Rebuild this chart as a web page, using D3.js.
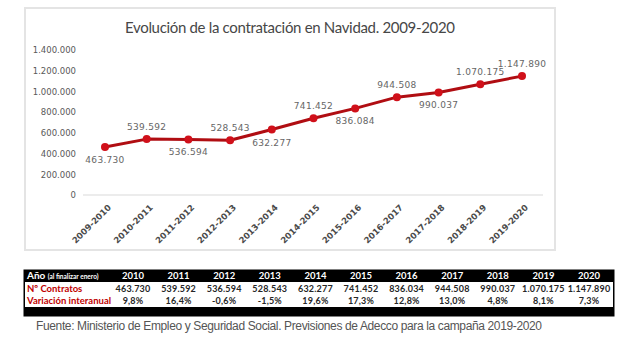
<!DOCTYPE html>
<html>
<head>
<meta charset="utf-8">
<script src="https://cdn.jsdelivr.net/npm/d3@7"></script>
<style>
  body { margin: 0; background: #fff; }
  svg { display: block; }
</style>
</head>
<body>
<svg width="635" height="340"></svg>
<script>
// Seasons on the x axis and hirings per season
const seasons = ["2009-2010", "2010-2011", "2011-2012", "2012-2013", "2013-2014", "2014-2015",
  "2015-2016", "2016-2017", "2017-2018", "2018-2019", "2019-2020"]
const contratos = [463730, 539592, 536594, 528543, 632277, 741452, 836084, 944508, 990037, 1070175, 1147890]
// where each value label sits: 1 above the point, -1 below
const labelSide = [-1, 1, -1, 1, -1, 1, -1, 1, -1, 1, 1]
const yTicks = [0, 200000, 400000, 600000, 800000, 1000000, 1200000, 1400000]

// Table under the chart
const tableYears = ["2010", "2011", "2012", "2013", "2014", "2015", "2016", "2017", "2018", "2019", "2020"]
const tableContratos = ["463.730", "539.592", "536.594", "528.543", "632.277", "741.452", "836.034",
  "944.508", "990.037", "1.070.175", "1.147.890"]
const tableVariacion = ["9,8%", "16,4%", "-0,6%", "-1,5%", "19,6%", "17,3%", "12,8%", "13,0%", "4,8%", "8,1%", "7,3%"]

const svg = d3.select("svg")
const fmt = v => d3.format(",")(v).replace(/,/g, ".")

// chart frame
svg.append("rect")
  .attr("x", 25).attr("y", 8)
  .attr("width", 530).attr("height", 242)
  .attr("fill", "#fff")
  .attr("stroke", "#e4e4e4")
  .attr("stroke-width", 2)

svg.append("text")
  .attr("x", 290).attr("y", 33)
  .attr("text-anchor", "middle")
  .attr("font-family", "Lato, sans-serif")
  .attr("font-size", 15)
  .attr("fill", "#474747")
  .attr("textLength", 330)
  .text("Evolución de la contratación en Navidad. 2009-2020")

const x = d3.scalePoint()
  .domain(seasons)
  .range([105, 522])

const y = d3.scaleLinear()
  .domain([0, 1400000])
  .range([195, 50])

// y axis: labels only, one baseline at zero
const yAxis = svg.append("g")
  .attr("transform", "translate(80,0)")
  .call(d3.axisLeft(y).tickValues(yTicks).tickSize(0).tickPadding(4).tickFormat(fmt))
yAxis.select(".domain").remove()
yAxis.selectAll("text")
  .attr("font-family", "DejaVu Sans, sans-serif")
  .attr("font-size", 8.5)
  .attr("fill", "#595959")

svg.append("line")
  .attr("x1", 83).attr("x2", 543)
  .attr("y1", y(0)).attr("y2", y(0))
  .attr("stroke", "#d9d9d9")
  .attr("stroke-width", 1)

// x axis with rotated season labels
const xAxis = svg.append("g")
  .attr("transform", "translate(0," + y(0) + ")")
  .call(d3.axisBottom(x).tickSize(0).tickPadding(0))
xAxis.select(".domain").remove()
xAxis.selectAll("text")
  .attr("font-family", "DejaVu Sans, sans-serif")
  .attr("font-size", 8.5)
  .attr("font-weight", "600")
  .attr("fill", "#4a4a4a")
  .attr("text-anchor", "end")
  .attr("dy", "0.35em")
  .attr("transform", "translate(4,11) rotate(-45)")

// the series
const line = d3.line()
  .x((d, i) => x(seasons[i]))
  .y(d => y(d))

svg.append("path")
  .datum(contratos)
  .attr("fill", "none")
  .attr("stroke", "#b00d12")
  .attr("stroke-width", 3)
  .attr("stroke-linejoin", "round")
  .attr("d", line)

svg.selectAll(".pt")
  .data(contratos)
  .join("circle")
  .attr("class", "pt")
  .attr("cx", (d, i) => x(seasons[i]))
  .attr("cy", d => y(d))
  .attr("r", 4)
  .attr("fill", "#d0101a")

svg.selectAll(".lbl")
  .data(contratos)
  .join("text")
  .attr("class", "lbl")
  .attr("x", (d, i) => x(seasons[i]))
  .attr("y", (d, i) => y(d) + (labelSide[i] > 0 ? -9 : 16))
  .attr("text-anchor", "middle")
  .attr("font-family", "DejaVu Sans, sans-serif")
  .attr("font-size", 9)
  .attr("letter-spacing", 0.3)
  .attr("fill", "#666")
  .text(fmt)

// ---- data table ----
const tx = d3.scalePoint()
  .domain(tableYears)
  .range([133, 589])

svg.append("rect")
  .attr("x", 23.5).attr("y", 269.5)
  .attr("width", 591).attr("height", 47)
  .attr("fill", "#000")
svg.append("rect")
  .attr("x", 25).attr("y", 282)
  .attr("width", 588).attr("height", 25)
  .attr("fill", "#fff")

const tableFont = "Lato, sans-serif"

const head = svg.append("text")
  .attr("x", 27).attr("y", 279)
  .attr("font-family", tableFont)
  .attr("font-weight", "bold")
  .attr("fill", "#fff")
head.append("tspan").attr("font-size", 10).text("Año ")
head.append("tspan").attr("font-size", 6.5).text("(al finalizar enero)")

svg.selectAll(".yr")
  .data(tableYears)
  .join("text")
  .attr("class", "yr")
  .attr("x", d => tx(d))
  .attr("y", 279)
  .attr("text-anchor", "middle")
  .attr("font-family", tableFont)
  .attr("font-weight", "bold")
  .attr("font-size", 9.5)
  .attr("fill", "#fff")
  .text(d => d)

const rows = [
  {name: "Nº Contratos", values: tableContratos, yy: 292},
  {name: "Variación interanual", values: tableVariacion, yy: 304}
]

rows.forEach(r => {
  svg.append("text")
    .attr("x", 27).attr("y", r.yy)
    .attr("font-family", tableFont)
    .attr("font-weight", "bold")
    .attr("font-size", 9.5)
    .attr("fill", "#c00000")
    .text(r.name)
  svg.selectAll(null)
    .data(r.values)
    .join("text")
    .attr("x", (d, i) => tx(tableYears[i]))
    .attr("y", r.yy)
    .attr("text-anchor", "middle")
    .attr("font-family", tableFont)
    .attr("font-weight", "bold")
    .attr("font-size", 9)
    .attr("letter-spacing", 0.2)
    .attr("fill", "#262626")
    .text(d => d)
})

svg.append("text")
  .attr("x", 36).attr("y", 330)
  .attr("font-family", "Liberation Sans, Arial, sans-serif")
  .attr("font-size", 12)
  .attr("fill", "#555")
  .attr("textLength", 506)
  .text("Fuente: Ministerio de Empleo y Seguridad Social. Previsiones de Adecco para la campaña 2019-2020")
</script>
</body>
</html>
